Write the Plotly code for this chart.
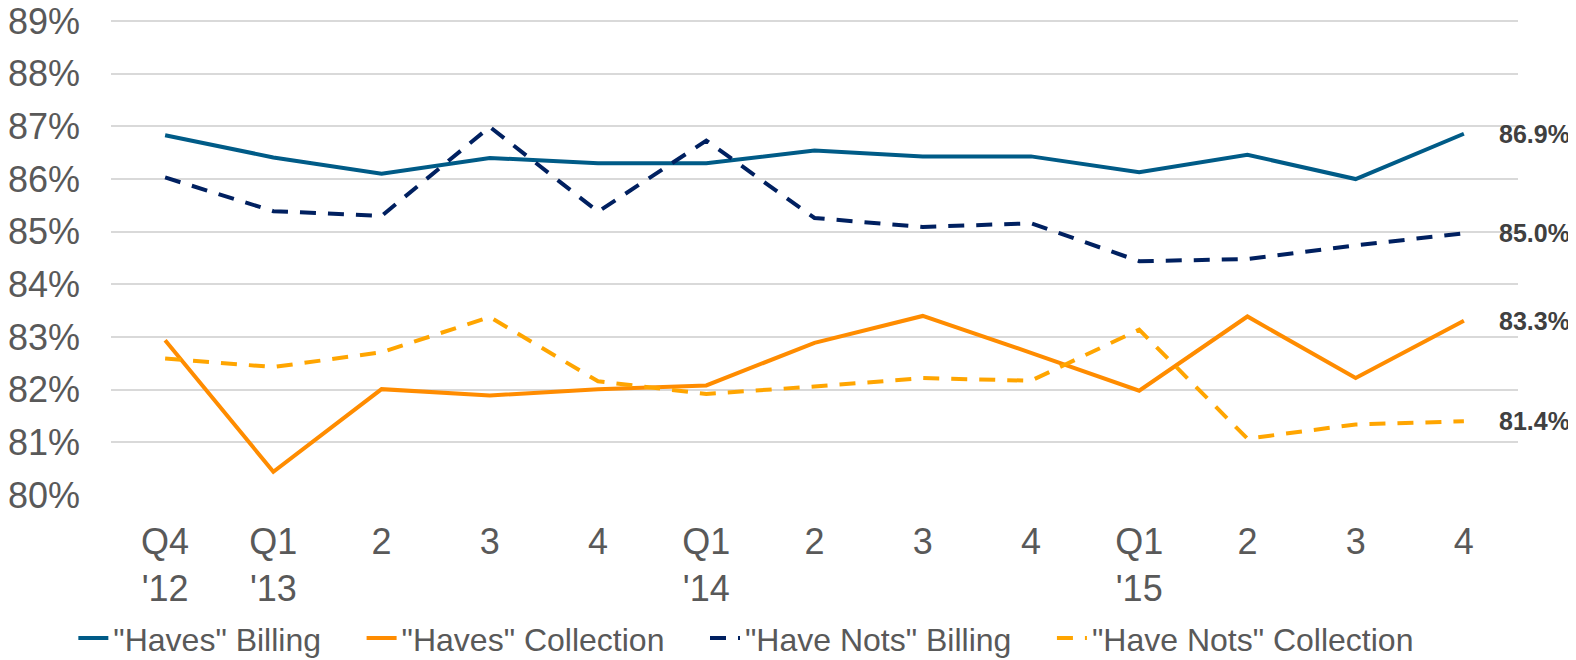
import plotly.graph_objects as go

QUARTERS = ["Q4<br>'12", "Q1<br>'13", "2", "3", "4", "Q1<br>'14", "2", "3", "4",
            "Q1<br>'15", "2", "3", "4"]

haves_billing = [86.83, 86.41, 86.10, 86.40, 86.30, 86.30, 86.54, 86.43, 86.43,
                 86.13, 86.46, 86.00, 86.86]
haves_collection = [82.94, 80.44, 82.01, 81.89, 82.01, 82.08, 82.89, 83.40, 82.70,
                    81.98, 83.39, 82.22, 83.31]
have_nots_billing = [86.03, 85.39, 85.30, 86.99, 85.38, 86.73, 85.26, 85.09, 85.16,
                     84.44, 84.48, 84.74, 84.97]
have_nots_collection = [82.59, 82.43, 82.71, 83.38, 82.16, 81.92, 82.06, 82.22, 82.17,
                        83.14, 81.07, 81.34, 81.40]

FONT = "Liberation Sans, Arial, sans-serif"
GREY = "#595959"
PAD = "\u00a0" * 4  # extra room between legend entries

series = [
    ('"Haves" Billing', haves_billing, "#005B87", "solid"),
    ('"Haves" Collection', haves_collection, "#FF8C00", "solid"),
    ('"Have Nots" Billing', have_nots_billing, "#002060", "16px,12px"),
    ('"Have Nots" Collection', have_nots_collection, "#FFA500", "16px,12px"),
]

x_idx = list(range(len(QUARTERS)))

fig = go.Figure()
for name, vals, color, dash in series:
    fig.add_trace(go.Scatter(
        x=x_idx, y=vals, name=name + PAD, mode="lines",
        line=dict(color=color, width=4, dash=dash),
    ))
    # end-of-line value label
    fig.add_annotation(
        x=x_idx[-1], y=vals[-1], xref="x", yref="y",
        text=f"<b>{vals[-1]:.1f}%</b>", showarrow=False,
        xanchor="left", yanchor="middle", xshift=33,
        font=dict(family=FONT, size=25, color="#404040"),
    )

# page body has an 8px margin, so the margins below are offset by that
fig.update_layout(
    width=1576, height=660,
    margin=dict(l=103, r=66, t=12, b=173, autoexpand=False),
    plot_bgcolor="white", paper_bgcolor="white",
    font=dict(family=FONT, color=GREY),
    showlegend=True,
    legend=dict(
        orientation="h", x=0.464, xanchor="center",
        yref="container", y=0.045, yanchor="middle",
        font=dict(family=FONT, size=32, color=GREY),
        bgcolor="rgba(0,0,0,0)", itemwidth=30,
    ),
)
fig.update_xaxes(
    range=[-0.5, 12.5], tickmode="array", tickvals=x_idx, ticktext=QUARTERS,
    showgrid=False, zeroline=False, showline=False, automargin=False,
    tickfont=dict(family=FONT, size=36, color=GREY),
    ticklabelstandoff=22,
)
fig.update_yaxes(
    range=[80, 89.02], tick0=80, dtick=1, ticksuffix="%",
    showgrid=True, gridcolor="#D9D9D9", gridwidth=1.5,
    zeroline=False, showline=False, automargin=False,
    ticklabeloverflow="allow",
    tickfont=dict(family=FONT, size=36, color=GREY),
    ticklabelstandoff=30,
)

fig.write_html("out.html")
